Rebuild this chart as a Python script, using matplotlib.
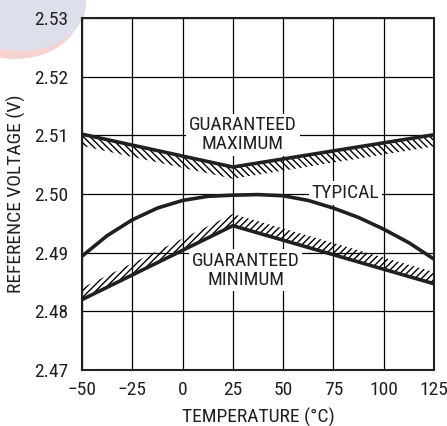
import matplotlib
matplotlib.use("Agg")
import matplotlib.pyplot as plt
from matplotlib import font_manager as fm
from matplotlib.patches import Ellipse

# ---- data ----
temp_typ = [-50, -37.5, -25, -12.5, 0, 12.5, 25, 37.5, 50, 62.5, 75, 87.5, 100, 112.5, 125]
v_typ = [2.4894, 2.4929, 2.4956, 2.4976, 2.4989, 2.4996, 2.4998, 2.4999, 2.4997,
         2.4989, 2.4976, 2.4960, 2.4940, 2.4917, 2.4889]
temp_lim = [-50, 25, 125]
v_max = [2.5102, 2.5046, 2.5101]
v_min = [2.4820, 2.4946, 2.4847]
xticks = [-50, -25, 0, 25, 50, 75, 100, 125]
yticks = [2.47, 2.48, 2.49, 2.50, 2.51, 2.52, 2.53]
band = 0.0020

# pick a narrow sans font if one is installed
entries = fm.fontManager.ttflist
names = {f.name for f in entries}
fs = 14
stretch = 'normal'
chosen = None
for cand in ['Liberation Sans Narrow', 'Arial Narrow', 'Roboto Condensed',
             'Open Sans Condensed', 'DejaVu Sans Condensed', 'Noto Sans Condensed']:
    if cand in names:
        chosen = cand
        break
if chosen is None:
    cond = [f for f in entries if f.stretch in ('condensed', 'semi-condensed')
            and f.name in ('DejaVu Sans', 'Noto Sans', 'Roboto', 'Open Sans')
            and f.weight in (400, 'normal', 'regular')]
    if cond:
        chosen = cond[0].name
        stretch = cond[0].stretch
if chosen is None:
    chosen = 'Liberation Sans'
    fs = 11.5
plt.rcParams['font.family'] = [chosen, 'DejaVu Sans']
plt.rcParams['font.stretch'] = stretch
plt.rcParams['hatch.linewidth'] = 1.0

fig = plt.figure(figsize=(4.47, 4.26), dpi=100)
fig.patch.set_facecolor('white')

# faint watermark in top-left corner (behind the axes)
fig.patches.append(Ellipse((15/447, 1-12/426), 130/447, 94/426, transform=fig.transFigure,
                           facecolor='#f7d3cf', edgecolor='none', zorder=-2))
fig.patches.append(Ellipse((20/447, 1-4/426), 132/447, 94/426, transform=fig.transFigure,
                           facecolor='#dde0eb', edgecolor='none', zorder=-1))

ax = fig.add_axes([82/447, 1-370/426, (434-82)/447, (370-18)/426])
ax.set_facecolor('white')
ax.set_xlim(-50, 125)
ax.set_ylim(2.47, 2.53)
ax.set_xticks(xticks)
ax.set_yticks(yticks)
ax.set_yticklabels([f"{v:.2f}" for v in yticks])
ax.grid(True, color='black', linewidth=0.9)
ax.set_axisbelow(True)
ax.tick_params(length=0, labelsize=fs, colors='#231f20')
ax.tick_params(axis='y', pad=10)
ax.tick_params(axis='x', pad=8)
for s in ax.spines.values():
    s.set_linewidth(1.5)
    s.set_color('#231f20')

# hatched bands
ax.fill_between(temp_lim, [v - band for v in v_max], v_max, facecolor='none',
                edgecolor='black', linewidth=0, hatch='\\' * 5, zorder=2)
ax.fill_between(temp_lim, v_min, [v + band for v in v_min], facecolor='none',
                edgecolor='black', linewidth=0, hatch='/' * 5, zorder=2)

lw = 2.6
ax.plot(temp_lim, v_max, color='#231f20', linewidth=lw, zorder=3, solid_capstyle='butt')
ax.plot(temp_lim, v_min, color='#231f20', linewidth=lw, zorder=3, solid_capstyle='butt')
ax.plot(temp_typ, v_typ, color='#231f20', linewidth=lw, zorder=3, solid_capstyle='butt')

# labels sit above the grid but below the curves and hatching
bb = dict(facecolor='white', edgecolor='none', pad=2)
ax.text(30, 2.5101, "GUARANTEED\nMAXIMUM", ha='center', va='center', fontsize=fs,
        color='#231f20', linespacing=1.05, bbox=bb, zorder=1.5)
ax.text(81, 2.5002, "TYPICAL", ha='center', va='center', fontsize=fs,
        color='#231f20', bbox=bb, zorder=1.5)
ax.text(31.4, 2.4870, "GUARANTEED\nMINIMUM", ha='center', va='center', fontsize=fs,
        color='#231f20', linespacing=1.05, bbox=bb, zorder=1.5)

ax.set_xlabel("TEMPERATURE (°C)", fontsize=fs, color='#231f20', labelpad=6)
ax.set_ylabel("REFERENCE VOLTAGE (V)", fontsize=fs, color='#231f20', labelpad=6)

fig.savefig("out.png", dpi=100)
